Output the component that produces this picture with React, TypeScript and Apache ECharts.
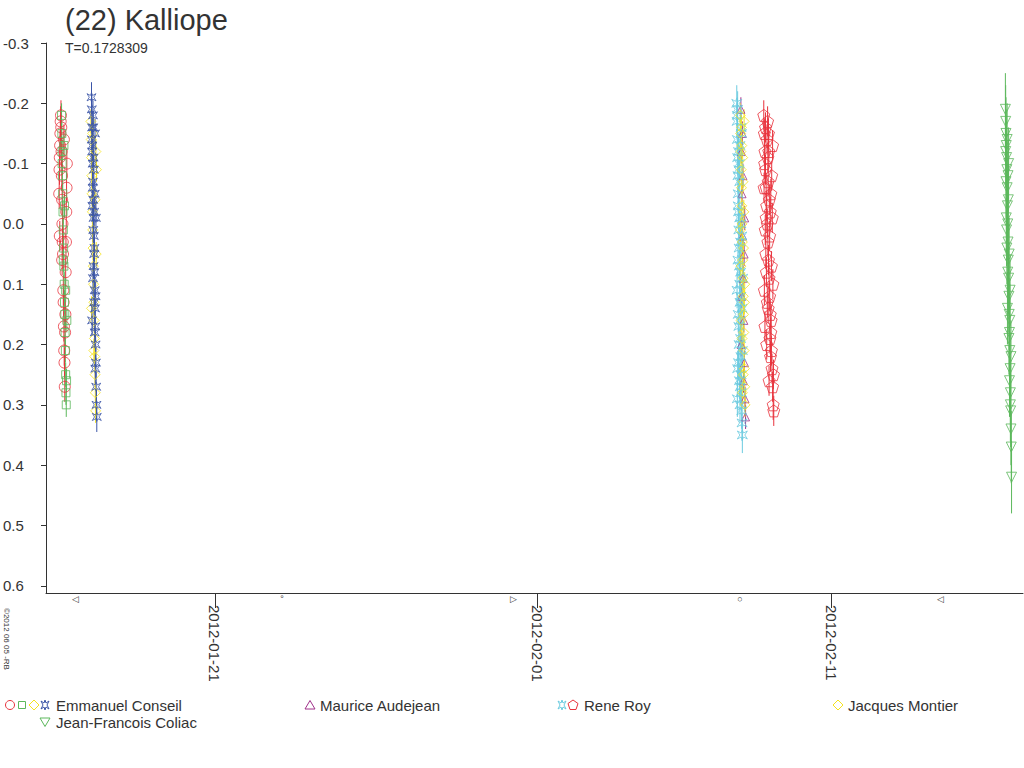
import React, { useEffect, useRef } from 'react';
import * as echarts from 'echarts';

// time in days since 2012-01-01 00:00 UT, magnitude (inverted axis)
const conseilCircle = [
  [14.70, -0.05], [14.71, -0.09], [14.72, -0.11], [14.73, -0.13], [14.74, -0.15], [14.75, -0.17],
  [14.76, -0.18], [14.77, -0.16], [14.78, -0.12], [14.79, -0.08], [14.80, -0.04], [14.81, 0.0],
  [14.82, 0.03], [14.83, 0.05], [14.84, 0.11], [14.85, 0.13], [14.86, 0.17], [14.87, 0.21],
  [14.88, 0.23], [14.89, 0.27], [14.90, 0.18], [14.91, 0.15], [14.92, 0.08], [14.93, 0.03],
  [14.94, -0.02], [14.95, -0.06], [14.96, -0.10], [14.72, 0.02], [14.80, 0.06], [14.86, -0.14]
];
const conseilSquare = [
  [14.78, -0.18], [14.79, -0.15], [14.80, -0.12], [14.81, -0.08], [14.82, -0.05], [14.83, -0.02],
  [14.84, 0.01], [14.85, 0.04], [14.86, 0.07], [14.87, 0.10], [14.88, 0.13], [14.89, 0.15],
  [14.90, 0.18], [14.91, 0.21], [14.92, 0.25], [14.93, 0.28], [14.94, 0.30], [14.95, 0.26],
  [14.96, 0.16], [14.80, -0.10], [14.84, 0.06], [14.88, -0.03], [14.92, 0.11], [14.86, -0.13]
];
const conseilStar = [
  [15.80, -0.21], [15.81, -0.19], [15.82, -0.16], [15.83, -0.13], [15.84, -0.10], [15.85, -0.07],
  [15.86, -0.04], [15.87, -0.01], [15.88, 0.02], [15.89, 0.05], [15.90, 0.08], [15.91, 0.11],
  [15.92, 0.14], [15.93, 0.17], [15.94, 0.20], [15.95, 0.23], [15.96, 0.27], [15.97, 0.30],
  [15.98, 0.32], [15.82, -0.12], [15.84, -0.06], [15.86, 0.01], [15.88, -0.09], [15.90, 0.04],
  [15.92, -0.15], [15.94, 0.12], [15.85, -0.18], [15.87, 0.07], [15.89, -0.02], [15.91, 0.18],
  [15.81, -0.14], [15.83, -0.03], [15.85, 0.09], [15.87, -0.11], [15.89, 0.13], [15.91, -0.05],
  [15.93, 0.24], [15.95, -0.01], [15.82, 0.16], [15.86, -0.16]
];
const conseilDiamond = [
  [15.78, -0.17], [15.79, -0.14], [15.80, -0.11], [15.81, -0.08], [15.82, -0.05], [15.83, -0.02],
  [15.84, 0.01], [15.85, 0.04], [15.86, 0.07], [15.87, 0.10], [15.88, 0.13], [15.89, 0.16],
  [15.90, 0.19], [15.91, 0.22], [15.92, 0.25], [15.93, 0.28], [15.94, 0.31], [15.95, -0.12],
  [15.96, 0.05], [15.97, -0.09], [15.80, 0.14], [15.84, -0.15], [15.88, 0.21], [15.92, -0.04]
];
const audejean = [
  [37.92, -0.19], [37.94, -0.12], [37.96, -0.05], [37.98, 0.02], [38.00, 0.09], [38.02, 0.16],
  [38.04, 0.23], [38.06, 0.29], [38.08, 0.32], [37.95, 0.12], [37.99, -0.08], [38.03, 0.05],
  [37.93, 0.20], [37.97, -0.15], [38.01, 0.26], [38.05, -0.01]
];
const royStar = [
  [37.78, -0.20], [37.79, -0.17], [37.80, -0.14], [37.81, -0.11], [37.82, -0.08], [37.83, -0.05],
  [37.84, -0.02], [37.85, 0.01], [37.86, 0.04], [37.87, 0.07], [37.88, 0.10], [37.89, 0.13],
  [37.90, 0.16], [37.91, 0.19], [37.92, 0.22], [37.93, 0.25], [37.94, 0.28], [37.95, 0.31],
  [37.96, 0.33], [37.97, 0.35], [37.80, -0.18], [37.82, 0.06], [37.84, -0.12], [37.86, 0.20],
  [37.88, -0.07], [37.90, 0.27], [37.92, 0.0], [37.94, -0.15], [37.96, 0.14], [37.98, 0.09],
  [37.81, 0.24], [37.83, -0.03], [37.85, 0.17], [37.87, -0.10], [37.89, 0.30], [37.91, 0.03],
  [37.79, 0.11], [37.81, -0.19], [37.83, 0.15], [37.85, -0.09], [37.87, 0.26], [37.89, -0.13],
  [37.91, 0.08], [37.93, -0.16], [37.95, 0.02], [37.97, 0.21], [37.80, 0.29], [37.84, 0.23],
  [37.88, -0.01], [37.92, 0.12]
];
const royPentagon = [
  [38.70, -0.18], [38.72, -0.15], [38.74, -0.12], [38.76, -0.09], [38.78, -0.06], [38.80, -0.03],
  [38.82, 0.0], [38.84, 0.03], [38.86, 0.06], [38.88, 0.09], [38.90, 0.12], [38.92, 0.15],
  [38.94, 0.18], [38.96, 0.21], [38.98, 0.24], [39.00, 0.27], [39.02, 0.30], [39.04, 0.31],
  [38.73, -0.10], [38.77, 0.05], [38.81, -0.14], [38.85, 0.14], [38.89, -0.04], [38.93, 0.22],
  [38.97, -0.08], [39.01, 0.10], [38.75, 0.01], [38.83, -0.17], [38.91, 0.19], [38.99, -0.01],
  [38.79, 0.08], [38.87, -0.12], [38.95, 0.16], [39.03, 0.25], [38.71, -0.06], [38.85, -0.07],
  [38.72, 0.11], [38.76, -0.16], [38.80, 0.20], [38.84, -0.11], [38.88, 0.26], [38.92, -0.02],
  [38.96, 0.07], [39.00, -0.13], [38.74, 0.17], [38.78, -0.01], [38.82, 0.13], [38.86, -0.15],
  [38.90, 0.02], [38.94, -0.05]
];
const montier = [
  [37.90, -0.18], [37.91, -0.15], [37.92, -0.12], [37.93, -0.09], [37.94, -0.06], [37.95, -0.03],
  [37.96, 0.0], [37.97, 0.03], [37.98, 0.06], [37.99, 0.09], [38.00, 0.12], [38.01, 0.15],
  [38.02, 0.18], [38.03, 0.21], [38.04, 0.24], [38.05, 0.27], [38.06, 0.30], [37.92, 0.07],
  [37.94, -0.16], [37.96, 0.19], [37.98, -0.11], [38.00, 0.25], [38.02, -0.02], [38.04, 0.13],
  [37.91, 0.01], [37.93, 0.16], [37.95, -0.13], [37.97, 0.28], [37.99, -0.07], [38.01, 0.04],
  [38.03, -0.17], [38.05, 0.10]
];
const coliac = [
  [46.93, -0.19], [46.94, -0.17], [46.95, -0.15], [46.96, -0.13], [46.97, -0.11], [46.98, -0.09],
  [46.99, -0.06], [47.00, -0.03], [47.01, 0.0], [47.02, 0.03], [47.03, 0.06], [47.04, 0.09],
  [47.05, 0.12], [47.06, 0.15], [47.07, 0.18], [47.08, 0.21], [47.09, 0.24], [47.10, 0.28],
  [47.11, 0.31], [47.12, 0.34], [47.13, 0.37], [47.14, 0.42], [46.95, -0.07], [46.97, 0.01],
  [46.99, -0.14], [47.01, 0.08], [47.03, -0.04], [47.05, 0.19], [47.07, 0.26], [47.09, 0.11],
  [46.96, -0.01], [47.00, 0.14], [47.04, -0.10], [46.94, -0.12], [46.98, 0.04], [47.02, -0.08],
  [47.06, 0.05], [47.08, 0.16], [47.10, 0.30], [47.12, 0.22]
];

const xTicks = [20, 31, 41];
const xTickLabels: Record<number, string> = { 20: '2012-01-21', 31: '2012-02-01', 41: '2012-02-11' };
const yTicks = [-0.3, -0.2, -0.1, 0.0, 0.1, 0.2, 0.3, 0.4, 0.5, 0.6];

const starPath = 'path://M5,0L6,3L9,1L7,5L9,9L6,7L5,10L4,7L1,9L3,5L1,1L4,3Z';
const triUp = 'path://M5,0L10,9L0,9Z';
const triDown = 'path://M0,0L10,0L5,9Z';
const pentagon = 'path://M5,0L10,3.6L8.1,9.5L1.9,9.5L0,3.6Z';

function errBars(name: string, data: number[][], color: string, err: number) {
  return {
    name: name + '-err',
    type: 'custom',
    data: data,
    silent: true,
    renderItem: (params: any, api: any) => {
      const t = api.value(0);
      const m = api.value(1);
      const p1 = api.coord([t, m - err]);
      const p2 = api.coord([t, m + err]);
      return { type: 'line', shape: { x1: p1[0], y1: p1[1], x2: p2[0], y2: p2[1] }, style: { stroke: color, lineWidth: 1 } };
    }
  };
}

function points(name: string, data: number[][], color: string, symbol: string, size: number) {
  return {
    name,
    type: 'scatter',
    data,
    symbol,
    symbolSize: size,
    itemStyle: { color: 'none', borderColor: color, borderWidth: 1 }
  };
}

export default function App() {
  const chartRef = useRef<HTMLDivElement>(null);

  useEffect(() => {
    if (!chartRef.current) return;
    document.body.style.margin = '0';
    const chart = echarts.init(chartRef.current, undefined, { renderer: 'svg' });
    const font = 'Liberation Sans, Arial, sans-serif';

    const legendItems: any[] = [];
    const sym = (x: number, y: number, shape: string, color: string) => {
      if (shape === 'circle') legendItems.push({ type: 'circle', shape: { cx: x, cy: y, r: 4.5 }, style: { fill: 'none', stroke: color } });
      else if (shape === 'rect') legendItems.push({ type: 'rect', shape: { x: x - 3.5, y: y - 3.5, width: 7, height: 7 }, style: { fill: 'none', stroke: color } });
      else if (shape === 'diamond') legendItems.push({ type: 'polygon', shape: { points: [[x, y - 5], [x + 5, y], [x, y + 5], [x - 5, y]] }, style: { fill: 'none', stroke: color } });
      else if (shape === 'up') legendItems.push({ type: 'polygon', shape: { points: [[x, y - 4.5], [x + 5, y + 4], [x - 5, y + 4]] }, style: { fill: 'none', stroke: color } });
      else if (shape === 'down') legendItems.push({ type: 'polygon', shape: { points: [[x - 5, y - 4], [x + 5, y - 4], [x, y + 4.5]] }, style: { fill: 'none', stroke: color } });
      else if (shape === 'pent') legendItems.push({ type: 'polygon', shape: { points: [[x, y - 5], [x + 5, y - 1.5], [x + 3, y + 4.5], [x - 3, y + 4.5], [x - 5, y - 1.5]] }, style: { fill: 'none', stroke: color } });
      else if (shape === 'star') legendItems.push({ type: 'polygon', shape: { points: [[x, y - 5], [x + 1, y - 2], [x + 4, y - 4], [x + 2, y], [x + 4, y + 4], [x + 1, y + 2], [x, y + 5], [x - 1, y + 2], [x - 4, y + 4], [x - 2, y], [x - 4, y - 4], [x - 1, y - 2]] }, style: { fill: 'none', stroke: color } });
    };
    const label = (x: number, y: number, text: string) =>
      legendItems.push({ type: 'text', x, y, style: { text, fill: '#333', font: `15px ${font}`, verticalAlign: 'middle' } });

    sym(10, 705, 'circle', '#e8323c'); sym(22, 705, 'rect', '#5cb85c'); sym(34, 705, 'diamond', '#f5e31f'); sym(45, 705, 'star', '#3b55a8');
    label(56, 705, 'Emmanuel Conseil');
    sym(310, 705, 'up', '#a0308a'); label(320, 705, 'Maurice Audejean');
    sym(562, 705, 'star', '#6ccbe0'); sym(573, 705, 'pent', '#e8323c'); label(584, 705, 'Rene Roy');
    sym(838, 705, 'diamond', '#f5e31f'); label(848, 705, 'Jacques Montier');
    sym(45, 722, 'down', '#5cb85c'); label(56, 722, 'Jean-Francois Coliac');

    const moons = [[75, '◁'], [282, '°'], [513, '▷'], [740, '○'], [940, '◁']];

    const option: any = {
      animation: false,
      grid: { left: 45, right: 1, top: 43, bottom: 175 },
      xAxis: {
        type: 'value',
        min: 14.25,
        max: 47.53,
        splitLine: { show: false },
        axisLine: { onZero: false, lineStyle: { color: '#333' } },
        axisTick: { show: true, length: 15, inside: false, customValues: xTicks, lineStyle: { color: '#333' } },
        axisLabel: {
          customValues: xTicks,
          rotate: -90,
          margin: 12,
          color: '#333',
          fontSize: 15,
          fontFamily: font,
          formatter: (v: number) => xTickLabels[Math.round(v)] || ''
        }
      },
      yAxis: {
        type: 'value',
        inverse: true,
        min: -0.3,
        max: 0.612,
        splitLine: { show: false },
        axisLine: { show: true, lineStyle: { color: '#333' } },
        axisTick: { show: true, customValues: yTicks, length: 5, lineStyle: { color: '#333' } },
        axisLabel: {
          customValues: yTicks,
          align: 'left',
          margin: 43,
          color: '#333',
          fontSize: 15,
          fontFamily: font,
          formatter: (v: number) => v.toFixed(1)
        }
      },
      graphic: [
        { type: 'text', left: 65, top: 5, style: { text: '(22) Kalliope', fill: '#333', font: `29px ${font}` } },
        { type: 'text', left: 65, top: 41, style: { text: 'T=0.1728309', fill: '#333', font: `14px ${font}` } },
        { type: 'text', x: 10, y: 608, rotation: -Math.PI / 2, style: { text: '©2012 06 05 -RB', fill: '#333', font: `8px ${font}` } },
        ...moons.map(([x, t]) => ({ type: 'text', x: x as number, y: 594, style: { text: t as string, fill: '#333', font: `9px ${font}`, align: 'center' } })),
        ...legendItems
      ],
      series: [
        errBars('c1', conseilCircle, '#e8323c', 0.025),
        errBars('c2', conseilSquare, '#5cb85c', 0.02),
        errBars('c3', conseilDiamond, '#f5e31f', 0.02),
        errBars('c4', conseilStar, '#3b55a8', 0.025),
        errBars('a', audejean, '#a0308a', 0.02),
        errBars('r1', royStar, '#6ccbe0', 0.03),
        errBars('r2', royPentagon, '#e8323c', 0.025),
        errBars('m', montier, '#f5e31f', 0.02),
        errBars('j', coliac, '#5cb85c', 0.06),
        points('Emmanuel Conseil circle', conseilCircle, '#e8323c', 'circle', 11),
        points('Emmanuel Conseil square', conseilSquare, '#5cb85c', 'rect', 8),
        points('Emmanuel Conseil diamond', conseilDiamond, '#f5e31f', 'diamond', 10),
        points('Emmanuel Conseil star', conseilStar, '#3b55a8', starPath, 9),
        points('Maurice Audejean', audejean, '#a0308a', triUp, 8),
        points('Rene Roy star', royStar, '#6ccbe0', starPath, 10),
        points('Rene Roy pentagon', royPentagon, '#e8323c', pentagon, 12),
        points('Jacques Montier', montier, '#f5e31f', 'diamond', 10),
        points('Jean-Francois Coliac', coliac, '#5cb85c', triDown, 10)
      ]
    };

    chart.setOption(option);
    return () => chart.dispose();
  }, []);

  return <div ref={chartRef} style={{ width: 1024, height: 768 }} />;
}
